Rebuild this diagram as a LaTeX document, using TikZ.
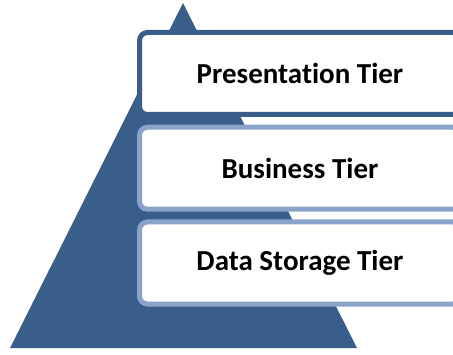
\documentclass[tikz,border=0pt]{standalone}
\usepackage{fontspec}
\setmainfont{Carlito}[Ligatures=NoCommon]
\definecolor{TierDark}{RGB}{58, 94, 138}
\definecolor{TierLight}{RGB}{137, 163, 203}

\begin{document}
\begin{tikzpicture}[x=1pt,y=1pt]
\tikzstyle{tier} = [rectangle, draw, line width=5pt, rounded corners=8pt, fill=white,
    minimum width=321pt, minimum height=82pt, text=black,
    font=\fontsize{29}{35}\selectfont\bfseries]
\tikzstyle{pyramid} = [fill=TierDark]

\clip (0,0) rectangle (453,354);
\coordinate (baseleft) at (10,6);
\coordinate (apex) at (183,351);
\coordinate (baseright) at (357,6);
\path [pyramid] (baseleft) -- (apex) -- (baseright) -- cycle;
%
\node [tier, draw=TierDark] (pres) at (300,280.5) {Presentation Tier};
\node [tier, draw=TierLight, below of=pres, node distance=94.75pt] (bus) {Business Tier};
\node [tier, draw=TierLight, below of=bus, node distance=94.75pt] (data) {Data Storage Tier};

\end{tikzpicture}
\end{document}
